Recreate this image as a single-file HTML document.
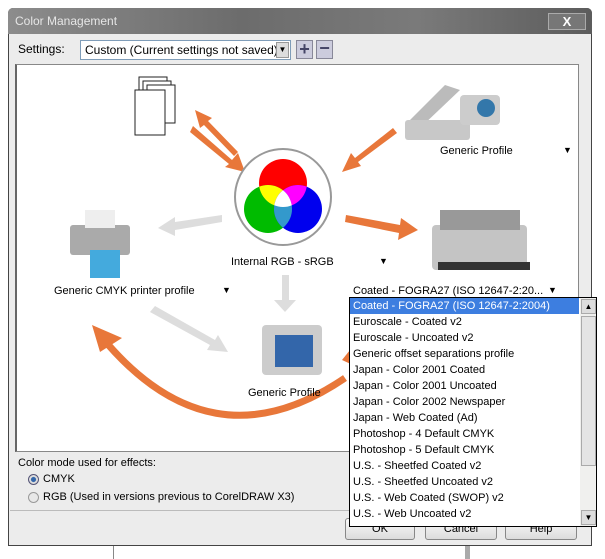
<!DOCTYPE html>
<html><head><style>
*{margin:0;padding:0;box-sizing:border-box}
body{width:605px;height:559px;background:#fff;position:relative;overflow:hidden;font-family:"Liberation Sans",sans-serif;font-size:11px;color:#000}
.a{position:absolute}
.btn{position:absolute;top:518px;height:22px;border:1px solid #888;border-radius:3px;background:linear-gradient(#fafafa,#dcdcdc);text-align:center;line-height:20px}
.dd div{height:16px;line-height:16px;padding-left:3px;white-space:nowrap}
</style></head><body>
<div class="a" style="left:113px;top:540px;width:1px;height:19px;background:#888"></div>
<div class="a" style="left:465px;top:540px;width:5px;height:19px;background:#aaa"></div>
<div class="a" style="left:8px;top:8px;width:584px;height:538px;background:#ececec;border:1px solid #444;border-radius:5px 5px 0 0"></div>
<div class="a" style="left:8px;top:8px;width:584px;height:26px;background:linear-gradient(90deg,#8c8c8c,#6c6c6c 40%,#7a7a7a 70%,#5c5c5c);border-radius:5px 5px 0 0"></div>
<div class="a" style="left:15px;top:14px;color:#e6e6e6;font-size:12px">Color Management</div>
<div class="a" style="left:548px;top:13px;width:38px;height:17px;border:1px solid #aaa;background:#777;color:#fff;font-weight:bold;text-align:center;line-height:15px;font-size:13px">X</div>
<div class="a" style="left:18px;top:42px;font-size:12px">Settings:</div>
<div class="a" style="left:80px;top:40px;width:211px;height:20px;background:#fff;border:1px solid #7f9db9;font-size:12px;padding:2px 4px">Custom (Current settings not saved)</div>
<div class="a" style="left:276px;top:42px;width:13px;height:16px;background:#ddd;border:1px solid #999;font-size:8px;text-align:center;line-height:14px">▼</div>
<div class="a" style="left:296px;top:40px;width:17px;height:19px;background:#ccd;border:1px solid #889;color:#446;font-weight:bold;font-size:18px;text-align:center;line-height:17px">+</div>
<div class="a" style="left:316px;top:40px;width:17px;height:19px;background:#ccd;border:1px solid #889;color:#446;font-weight:bold;font-size:18px;text-align:center;line-height:15px">−</div>
<div class="a" style="left:15px;top:64px;width:564px;height:388px;background:#fff;border:1px solid #888;border-left:2px solid #666"></div>
<svg class="a" style="left:0;top:0" width="605" height="559">
<defs>
<clipPath id="cr"><circle cx="283" cy="183" r="24"/></clipPath>
<clipPath id="cg"><circle cx="268" cy="209" r="24"/></clipPath>
<clipPath id="cb"><circle cx="298" cy="209" r="24"/></clipPath>
</defs>
<g fill="#e8773a">
<path d="M345,378 Q210,470 100,335" stroke="#e8773a" stroke-width="7" fill="none"/>
<polygon points="92,325 122,338 100,352"/>
<polygon points="193,126 232,160 238,153 245,172 225,167 229,164 190,132"/>
<polygon points="238,152 208,121 212,118 195,110 200,128 204,125 234,156"/>
<polygon points="393,128 355,158 351,153 342,172 361,166 358,162 397,133"/>
<polygon points="346,215 400,225 401,218 418,230 398,240 399,233 345,222"/>
<polygon points="355,366 350,350 342,360"/>
</g>
<g fill="#ddd">
<polygon points="222,215 175,222 175,217 158,228 175,236 175,230 222,222"/>
<polygon points="282,275 289,275 289,300 296,300 285,312 274,300 282,300"/>
<polygon points="150,312 210,345 207,350 228,352 218,335 215,340 155,306"/>
</g>
<circle cx="283" cy="197" r="48" fill="#fff" stroke="#999" stroke-width="2"/>
<circle cx="283" cy="183" r="24" fill="#f00"/>
<circle cx="268" cy="209" r="24" fill="#0b0"/>
<circle cx="298" cy="209" r="24" fill="#00e"/>
<g clip-path="url(#cr)"><circle cx="268" cy="209" r="24" fill="#ff0"/><circle cx="298" cy="209" r="24" fill="#f0f"/></g>
<g clip-path="url(#cg)"><circle cx="298" cy="209" r="24" fill="#39c"/><g clip-path="url(#cr)"><circle cx="298" cy="209" r="24" fill="#fff"/></g></g>
<g fill="#fff" stroke="#222"><rect x="139" y="77" width="28" height="38"/><rect x="143" y="81" width="28" height="38"/><rect x="147" y="85" width="28" height="38"/><rect x="135" y="90" width="30" height="45"/></g>
<polygon points="405,125 445,85 460,90 420,128" fill="#bbb"/><rect x="405" y="120" width="65" height="20" rx="3" fill="#c8c8c8"/><rect x="460" y="95" width="40" height="30" rx="4" fill="#ccc"/><circle cx="486" cy="108" r="9" fill="#37a"/>
<rect x="70" y="225" width="60" height="30" rx="3" fill="#aaa"/><rect x="85" y="210" width="30" height="18" fill="#eee"/><rect x="90" y="250" width="30" height="28" fill="#4ad"/>
<rect x="432" y="225" width="95" height="45" rx="4" fill="#c4c4c4"/><rect x="440" y="210" width="80" height="20" fill="#999"/><rect x="438" y="262" width="92" height="8" fill="#333"/>
<rect x="262" y="325" width="60" height="50" rx="4" fill="#ccc"/><rect x="275" y="335" width="38" height="32" fill="#36a"/>
</svg>
<div class="a" style="left:440px;top:145px">Generic Profile</div><div class="a" style="left:563px;top:145px;font-size:9px">▼</div>
<div class="a" style="left:231px;top:256px">Internal RGB - sRGB</div><div class="a" style="left:379px;top:256px;font-size:9px">▼</div>
<div class="a" style="left:54px;top:285px">Generic CMYK printer profile</div><div class="a" style="left:222px;top:285px;font-size:9px">▼</div>
<div class="a" style="left:353px;top:285px">Coated - FOGRA27 (ISO 12647-2:20...</div><div class="a" style="left:548px;top:285px;font-size:9px">▼</div>
<div class="a" style="left:248px;top:387px">Generic Profile</div>
<div class="a" style="left:18px;top:457px">Color mode used for effects:</div>
<div class="a" style="left:28px;top:474px;width:11px;height:11px;border-radius:50%;border:1px solid #557;background:radial-gradient(#36a 35%,#ddd 45%)"></div><div class="a" style="left:43px;top:473px">CMYK</div>
<div class="a" style="left:28px;top:492px;width:11px;height:11px;border-radius:50%;border:1px solid #999;background:#e8e8e8"></div><div class="a" style="left:43px;top:491px">RGB (Used in versions previous to CorelDRAW X3)</div>
<div class="a" style="left:10px;top:510px;width:580px;height:1px;background:#bbb"></div>
<div class="btn" style="left:345px;width:70px">OK</div>
<div class="btn" style="left:425px;width:72px">Cancel</div>
<div class="btn" style="left:505px;width:72px">Help</div>
<div class="a dd" style="left:349px;top:297px;width:248px;height:230px;background:#fff;border:1px solid #000;overflow:hidden">
<div style="background:#3d7ee0;color:#fff;width:229px">Coated - FOGRA27 (ISO 12647-2:2004)</div>
<div>Euroscale - Coated v2</div><div>Euroscale - Uncoated v2</div><div>Generic offset separations profile</div><div>Japan - Color 2001 Coated</div><div>Japan - Color 2001 Uncoated</div><div>Japan - Color 2002 Newspaper</div><div>Japan - Web Coated (Ad)</div><div>Photoshop - 4 Default CMYK</div><div>Photoshop - 5 Default CMYK</div><div>U.S. - Sheetfed Coated v2</div><div>U.S. - Sheetfed Uncoated v2</div><div>U.S. - Web Coated (SWOP) v2</div><div>U.S. - Web Uncoated v2</div>
<div class="a" style="left:230px;top:0;width:17px;height:228px;background:#f0f0ee"></div>
<div class="a" style="left:231px;top:1px;width:15px;height:15px;background:#ddd;border:1px solid #aaa;font-size:8px;text-align:center;line-height:13px;padding:0">▲</div>
<div class="a" style="left:231px;top:18px;width:15px;height:150px;background:#e4e4e4;border:1px solid #aaa;padding:0"></div>
<div class="a" style="left:231px;top:212px;width:15px;height:15px;background:#ddd;border:1px solid #aaa;font-size:8px;text-align:center;line-height:13px;padding:0">▼</div>
</div>
</body></html>
